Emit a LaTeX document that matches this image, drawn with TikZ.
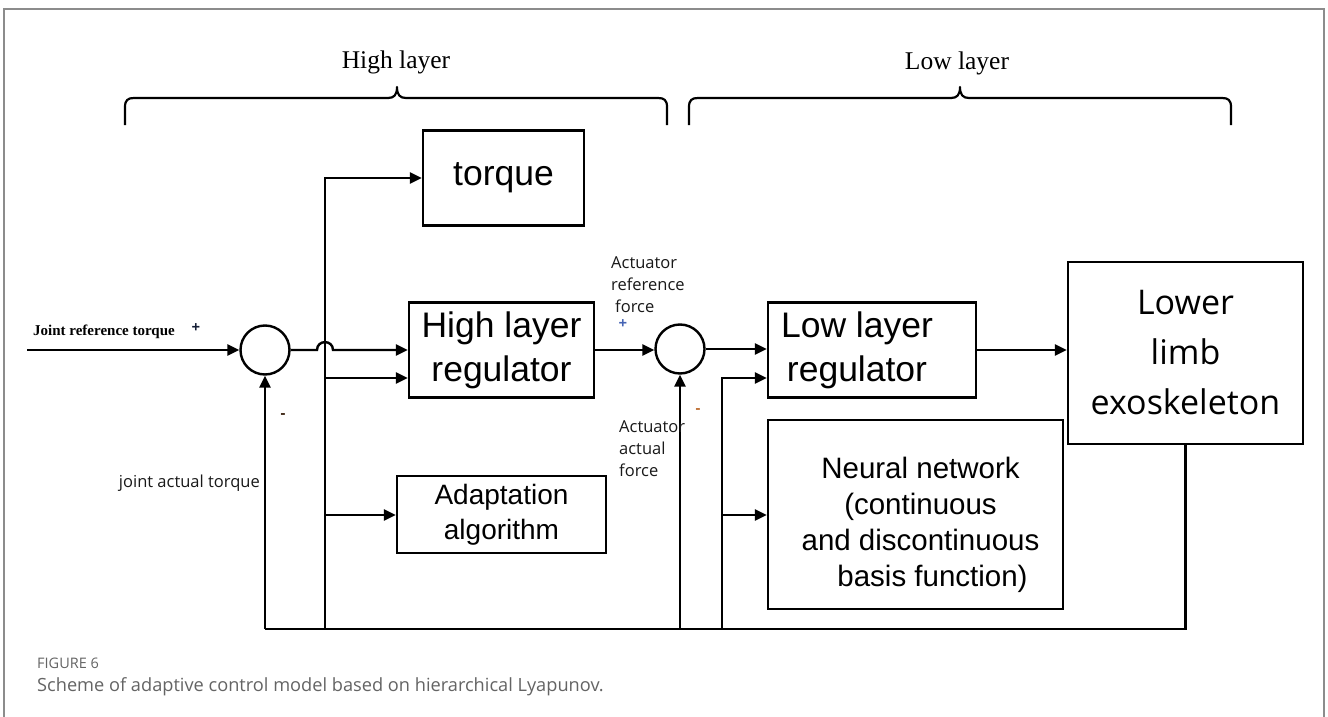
\documentclass[tikz,border=0pt]{standalone}
\usepackage{fontspec}
\setmainfont{Liberation Sans}
\newfontfamily\timesfont{Liberation Serif}
\newfontfamily\uifont{Open Sans}
\usetikzlibrary{arrows.meta,calc}

\definecolor{framecol}{RGB}{140,140,140}
\definecolor{capgray}{RGB}{100,100,100}
\definecolor{plusblue}{RGB}{70,100,180}
\definecolor{minusorange}{RGB}{190,110,50}

\tikzset{
  blk/.style={draw, rectangle, line width=2.4pt, inner sep=0pt, align=center},
  sumnode/.style={draw, circle, line width=2.4pt, minimum size=49pt, inner sep=0pt},
  wire/.style={line width=2.4pt},
  arr/.style={wire, -{Triangle[length=12pt,width=11pt]}},
  brace/.style={line width=2.2pt, line join=round},
  bigtext/.style={font=\fontsize{35.5}{44}\selectfont},
  smalltext/.style={font=\uifont\fontsize{16.5}{22}\selectfont, text=black!90, inner sep=0pt, align=left},
  signtext/.style={font=\uifont\bfseries\fontsize{15}{15}\selectfont, inner sep=0pt}
}

\begin{document}
\begin{tikzpicture}[x=1pt,y=-1pt]
\useasboundingbox (0,0) rectangle (1328,717);
\fill[white] (0,0) rectangle (1328,717);
% outer frame
\draw[framecol, line width=1.6pt] (4,730) -- (4,9) -- (1324,9) -- (1324,730);

% layer braces
\draw[brace] (125,125) -- (125,107) .. controls (125,100) and (128,98) .. (134,98)
  -- (388,98) .. controls (394,98) and (397,95) .. (397,87)
  .. controls (397,95) and (400,98) .. (406,98)
  -- (658,98) .. controls (664,98) and (667,100) .. (667,107) -- (667,125);
\draw[brace] (689,125) -- (689,107) .. controls (689,100) and (692,98) .. (698,98)
  -- (951,98) .. controls (957,98) and (960,95) .. (960,87)
  .. controls (960,95) and (963,98) .. (969,98)
  -- (1222,98) .. controls (1228,98) and (1231,100) .. (1231,107) -- (1231,125);
\node[font=\timesfont\fontsize{25.5}{28}\selectfont] (hltitle) at (396,62) {High layer};
\node[font=\timesfont\fontsize{25.5}{28}\selectfont] (lltitle) at (957,63) {Low layer};

% blocks
\node[blk, bigtext, minimum width=161pt, minimum height=95pt] (torque) at (503.5,178) {torque};
\node[blk, bigtext, minimum width=185pt, minimum height=95pt] (hreg) at (501.5,350) {High layer\\regulator};
\node[blk, font=\fontsize{28}{35}\selectfont, minimum width=209pt, minimum height=77pt] (adapt) at (501.5,514.5) {Adaptation\\algorithm};
\node[blk, minimum width=208pt, minimum height=95pt,
  label={[xshift=-15pt, align=center, bigtext]center:Low layer\\regulator}] (lreg) at (872,350) {};
\node[blk, minimum width=295pt, minimum height=189pt,
  label={[xshift=5pt, yshift=-10pt, align=center, font=\fontsize{29.5}{36}\selectfont]center:Neural network\\(continuous\\and discontinuous\\\hspace*{24pt}basis function)}] (nn) at (915.5,514.5) {};
\node[blk, font=\uifont\fontsize{34}{50}\selectfont, minimum width=235pt, minimum height=182pt] (limb) at (1185.5,353) {Lower\\limb\\exoskeleton};

% summing junctions
\node[sumnode] (sum1) at (265,350) {};
\node[sumnode] (sum2) at (680,349) {};

% helper coordinates
\coordinate (base) at (0,629);
\coordinate (row2) at (0,378);
\coordinate (row3) at (0,515);
\coordinate (tapA) at (325,629);
\coordinate (tapB) at (722,629);
\coordinate (src) at (27,350);

% forward path
\draw[arr] (src) -- (sum1.west);
\draw[arr] (sum1.east) -- (317,350) .. controls (317,339.5) and (333,339.5) .. (333,350) -- (hreg.west);
\draw[arr] (hreg.east) -- (hreg.east -| sum2.west);
\draw[arr] (sum2.east) -- (sum2.east -| lreg.west);
\draw[arr] (lreg.east) -- (lreg.east -| limb.west);

% feedback path
\draw[wire] (limb.south) |- (sum1 |- base);
\draw[arr] (sum1 |- base) -- (sum1.south);
\draw[arr] (sum2 |- base) -- (sum2.south);

% high layer distribution
\draw[arr] (tapA) |- (torque.west);
\draw[arr] (tapA |- row2) -- (hreg.west |- row2);
\draw[arr] (tapA |- row3) -- (adapt.west |- row3);

% low layer distribution
\draw[arr] (tapB) |- (lreg.west |- row2);
\draw[arr] (tapB |- row3) -- (nn.west |- row3);

% signal labels
\node[font=\timesfont\bfseries\fontsize{15}{17}\selectfont] (jrt) at (104,332) {Joint reference torque};
\node[signtext, text=black!70!plusblue] (plus1) at (196,328) {+};
\node[signtext, text=black!70!minusorange] (minus1) at (283,416) {-};
\node[smalltext, anchor=east] (jat) at (260,483) {joint actual torque};
\node[smalltext, anchor=west] (arf) at (611,285) {Actuator\\reference\\\hspace*{4pt}force};
\node[signtext, text=plusblue] (plus2) at (623,324) {+};
\node[smalltext, anchor=west] (aaf) at (619,449) {Actuator\\actual\\force};
\node[signtext, text=minusorange] (minus2) at (698,411) {-};

% caption
\node[anchor=west, inner sep=0pt, font=\uifont\fontsize{14.5}{16}\selectfont, text=capgray] (fig) at (37,663) {FIGURE 6};
\node[anchor=west, inner sep=0pt, font=\uifont\fontsize{18.2}{21}\selectfont, text=capgray] (cap) at (37,687) {Scheme of adaptive control model based on hierarchical Lyapunov.};
\end{tikzpicture}
\end{document}
